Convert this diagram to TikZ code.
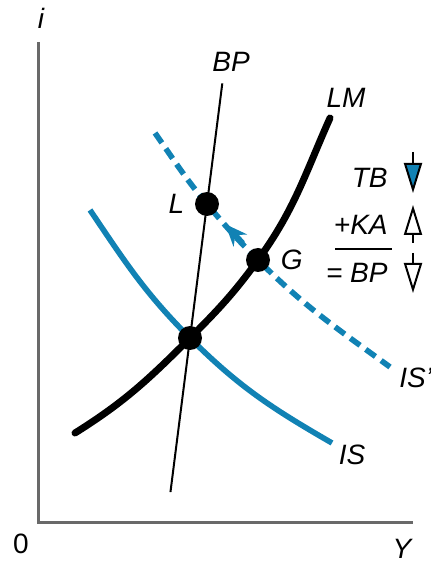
\documentclass[tikz,border=0pt]{standalone}
\usepackage{fontspec}
\setmainfont{Liberation Sans}
\usetikzlibrary{positioning, arrows.meta, calc}
\definecolor{isblue}{RGB}{17,130,180}
\definecolor{axisgray}{RGB}{105,105,105}

\begin{document}
\begin{tikzpicture}[
        x=0.5pt, y=0.5pt,
        node distance=4pt,
        lbl/.style={font=\fontsize{14}{16}\selectfont\itshape, inner sep=1pt},
        dot/.style={circle, fill=black, minimum size=12pt, inner sep=0pt},
        axis/.style={draw=axisgray, line width=1.5pt},
        lmline/.style={line width=3.5pt, line cap=round},
        isline/.style={draw=isblue, line width=2.8pt},
        shiftline/.style={draw=isblue, line width=2.8pt, dash pattern=on 6pt off 3.5pt},
        shiftarr/.style={draw=isblue, line width=2.8pt, -{Stealth[length=11pt, width=9pt]}},
        signarr/.style={line width=1pt, -{Triangle[length=15pt, width=9pt, fill=#1]}}
    ]
    \useasboundingbox (0,0) rectangle (431,563);

    % Axes
    \coordinate (origin) at (38,40);
    \coordinate (itop) at (38,521);
    \coordinate (yend) at (413,40);
    \draw[axis] (itop) -- (origin) -- (yend);
    \node[lbl] (ilbl) at (41,545) {i};
    \node[lbl, font=\fontsize{14}{16}\selectfont] (zero) at (21,19) {0};
    \node[lbl] (ylbl) at (402,14) {Y};

    % Equilibrium points
    \coordinate (e) at (190,225);
    \coordinate (l) at (207,359);
    \coordinate (g) at (258,303);

    % IS and IS' curves
    \draw[isline] (90,353) to[out=-56,in=135] (e) to[out=-45,in=150] (332,120);
    \draw[shiftline] (155,430) to[out=-55,in=130] (l) to[out=-50,in=135] (g) to[out=-45,in=144] (390,196);
    \draw[shiftarr] ($(g)!0.3!(l)$) -- ($(g)!0.64!(l)$);

    % LM curve
    \draw[lmline] (75,130) to[out=32,in=225] (e) to[out=45,in=234] (g) to[out=54,in=246] (330,445);

    % BP line
    \draw[line width=1pt] ($(e)!-1.15!(l)$) -- ($(e)!1.9!(l)$);

    \node[dot] (E) at (e) {};
    \node[dot] (L) at (l) {};
    \node[dot] (G) at (g) {};
    \node[lbl, left=4pt of L] (llbl) {L};
    \node[lbl, right=4pt of G] (glbl) {G};

    % Curve labels
    \node[lbl] (bplbl) at (231,501) {BP};
    \node[lbl] (lmlbl) at (346,465) {LM};
    \node[lbl] (islbl) at (352,108) {IS};
    \node[lbl, anchor=west] (isplbl) at (397,185) {IS'};

    % Balance of payments
    \node[lbl, anchor=east] (tb) at (390,385) {TB};
    \node[lbl, anchor=east] (ka) at (390,338) {+KA};
    \node[lbl, anchor=east] (bp) at (390,290) {= BP};
    \draw[line width=1pt] (335,314) -- (392,314);
    \draw[signarr=isblue] (413,411) -- (413,370);
    \draw[signarr=white] (413,320) -- (413,358);
    \draw[signarr=white] (413,310) -- (413,270);

\end{tikzpicture}
\end{document}
